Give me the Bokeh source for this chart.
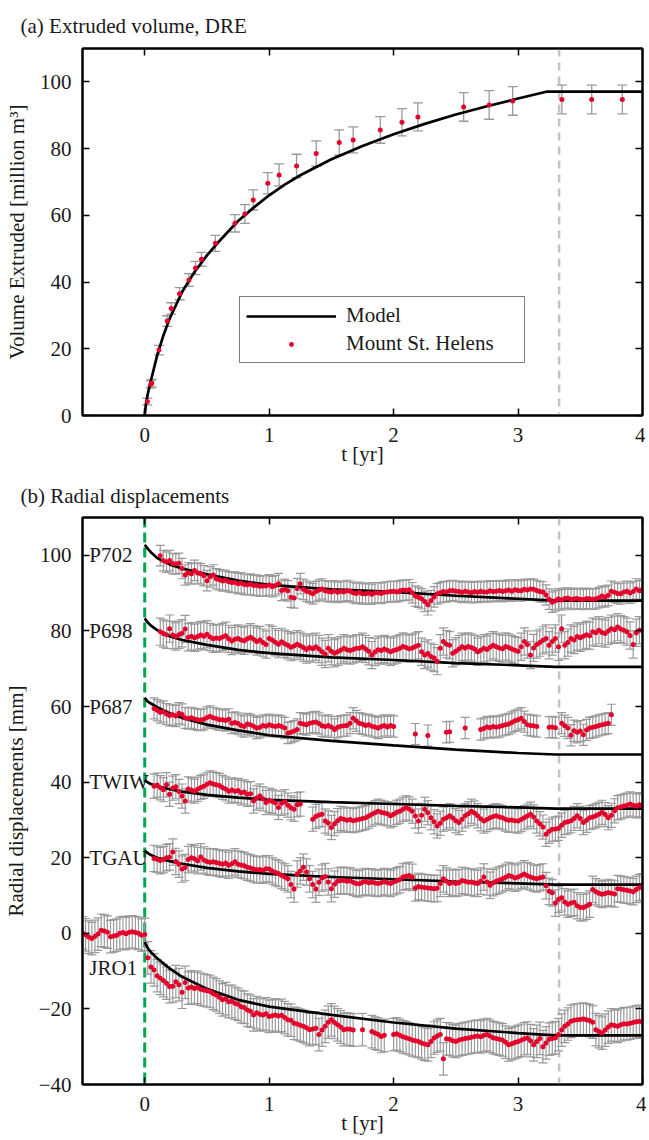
import numpy as np
from bokeh.plotting import figure
from bokeh.layouts import column
from bokeh.models import (Range1d, FixedTicker, LinearAxis, CustomJSTickFormatter,
                          ColumnDataSource, Whisker, TeeHead, Span, Legend, LegendItem)
from bokeh.core.properties import value
from bokeh.embed import file_html
from bokeh.resources import INLINE

FONT = "Liberation Serif"
FS = "21px"
INK = "#1a1a1a"
RED = "#e4002b"
BAR = "#9a9a9a"

# ---------------- (a) Extruded volume ----------------
vol_t = [0.021, 0.048, 0.056, 0.115, 0.181, 0.213, 0.28, 0.355, 0.408, 0.456, 0.568,
         0.725, 0.805, 0.872, 0.989, 1.08, 1.22, 1.378, 1.563, 1.675, 1.893, 2.067,
         2.195, 2.563, 2.768, 2.957, 3.352, 3.592, 3.838]
vol_v = [4.2, 9.3, 9.7, 19.6, 28.3, 32.1, 36.5, 40.6, 44.2, 46.8, 51.6,
         57.6, 60.4, 64.6, 69.6, 72.1, 74.8, 78.5, 81.8, 82.6, 85.6, 87.9,
         89.5, 92.5, 93.1, 94.3, 94.7, 94.7, 94.7]
vol_err = [1.0, 1.1, 1.1, 1.4, 1.6, 1.7, 1.8, 1.9, 2.0, 2.1, 2.4,
           2.6, 2.8, 3.0, 3.2, 3.3, 3.5, 3.8, 3.8, 3.9, 4.0, 4.1,
           4.2, 4.3, 4.3, 4.3, 4.3, 4.3, 4.3]
model_vol_t = [0, 0.01, 0.025, 0.05, 0.1, 0.15, 0.2, 0.3, 0.4, 0.5, 0.6, 0.75, 0.875, 1.0,
               1.125, 1.25, 1.5, 1.75, 2.0, 2.25, 2.5, 2.75, 3.0, 3.235, 4.0]
model_vol_v = [0, 3.5, 6.5, 10.5, 18.0, 24.0, 29.0, 37.0, 43.0, 48.0, 52.3, 58.3, 62.3, 66.0,
               69.2, 72.0, 76.8, 80.8, 84.3, 87.4, 90.2, 92.7, 95.0, 97.1, 97.1]

eruption_end = 3.33
eruption_start = 0.0

# ---------------- (b) Radial displacements ----------------
dt = 0.025
stations = ["P702", "P698", "P687", "TWIW", "TGAU", "JRO1"]
label_y = [100, 80, 60, 40, 20, -9.1]
start_t = [0.125, 0.125, 0.075, 0.075, 0.075, -0.5]
errors = [2.7, 3.6, 2.8, 3.2, 3.5, 4.3]
N = None

p702 = [99.9, 98.6, 98.2, 98.6, 97.8, 97.7, 97.9, 96.5, 94.8, 95.4,
        95.1, 96.0, 95.3, 95.1, 94.6, 93.3, 94.3, 94.8, 93.8, 93.5,
        93.2, 93.4, 93.0, 92.8, 92.9, 92.5, 92.7, 92.3, 92.2, 92.4,
        92.0, 92.1, 91.8, 91.9, 91.9, 92.2, 91.7, 92.0, 92.5, 90.7,
        91.0, 90.6, 88.9, 88.7, 91.2, 92.5, 91.0, 90.5, 90.2, 89.8,
        90.4, 90.8, 91.1, 90.6, 90.4, 90.3, 90.6, 90.2, 90.5, 90.3,
        90.7, 90.5, 90.1, 89.9, 90.2, 89.8, 89.8, 90.0, 89.7, 90.1,
        90.1, 89.9, 90.2, 90.3, 90.4, 90.5, 90.3, 90.6, 90.8, 90.7,
        90.9, 90.1, 89.2, 88.9, 88.5, 87.8, 86.9, 88.0, 89.0, 89.8,
        90.1, 90.4, 90.3, 90.6, 90.7, 90.5, 90.4, 90.2, 90.5, 90.3,
        90.1, 90.4, 90.2, 90.5, 90.3, 90.3, 90.6, 90.4, 90.5, 90.7,
        90.4, 90.6, 90.8, 90.5, 90.9, 90.7, 90.6, 91.0, 90.8, 91.1,
        91.0, 90.7, 90.4, 90.3, 89.5, 88.4, 87.6, 88.0, 88.5, 88.2,
        88.6, 88.7, 88.3, 88.5, 88.6, 88.4, 88.3, 88.6, 88.5, 88.4,
        88.5, 88.8, 89.2, 89.0, 89.4, 90.5, 90.2, 89.9, 89.8, 90.3,
        90.5, 90.0, 90.4, 91.1, 90.6, 91.0]

p698 = [79.8, 79.3, 79.0, 80.6, 78.9, 78.5, 79.0, 79.4, 80.5, 78.3,
        78.6, 78.2, 78.5, 78.9, 78.6, 79.1, 78.4, 77.9, 78.1, 78.0,
        78.4, 78.7, 77.9, 77.3, 77.8, 78.0, 77.6, 77.4, 77.9, 78.3,
        77.8, 77.2, 77.6, 76.9, 76.4, 78.0, 77.6, 77.0, 76.5, 77.1,
        76.6, 76.2, 75.7, 76.0, 76.5, 76.1, 75.6, 75.1, 75.6, 75.3,
        75.8, 75.2, 74.5, 73.9, 75.4, 74.6, 74.1, 74.5, 74.9, 75.4,
        75.0, 74.8, 75.1, 75.4, 75.4, 75.8, 75.2, 74.6, 73.6, 74.4,
        75.0, 74.8, 75.2, 74.9, 74.5, 74.8, 75.1, 75.4, 75.9, 75.6,
        75.3, 75.5, 75.9, 76.2, 74.5, 73.6, 74.0, 73.2, 72.8, 72.0,
        75.4, 77.2, 76.5, 76.2, 74.1, 74.6, 75.2, 75.8, 75.5, 75.9,
        75.6, 75.2, 74.5, 74.9, 75.4, 75.1, 75.7, 76.2, 75.8, 75.5,
        75.3, 75.9, 75.6, 75.2, 74.9, 74.6, 75.8, 77.2, 76.4, 73.6,
        75.5, 76.4, 76.9, 77.5, 78.0, 76.2, 77.2, 78.0, 75.8, 80.6,
        76.2, 76.9, 78.0, 77.6, 78.5, 78.2, 78.6, 79.0, 78.7, 79.8,
        79.5, 80.2, 79.6, 79.3, 80.0, 80.6, 80.3, 81.0, 80.5, 80.2,
        79.8, 78.8, 76.4, 79.5, 80.2, 80.2]

p687 = [59.5, 59.0, 58.4, 58.7, 58.0, 57.6, 57.8, 57.5, 58.2, 57.9,
        57.0, 56.8, 57.0, 56.7, 56.5, 56.4, 56.6, 57.1, 57.4, 57.0,
        56.8, 56.5, 56.5, 56.3, 56.6, 55.6, 55.8, 55.5, 55.0, 54.7,
        55.4, 55.2, 54.8, 54.3, 54.5, 55.0, 54.8, 55.2, 54.9, 54.7,
        55.0, 54.7, 54.3, 53.0, 53.2, 53.5, 53.9, 55.6, 55.4, 55.2,
        55.6, 55.8, 55.9, 55.5, 54.9, 54.7, 55.0, 54.6, 53.9, 54.5,
        54.8, 54.9, 55.0, 55.6, 56.9, 56.2, 55.6, 55.4, 55.0, 55.2,
        54.8, 54.6, 54.3, 54.7, 55.0, 54.6, 55.0, 54.7, N, N,
        N, N, N, N, 52.7, N, N, N, 52.3, N,
        N, N, N, N, 53.2, 53.3, N, N, N, N,
        54.3, N, N, N, N, 53.9, 54.2, 54.6, 54.4, 54.7,
        54.5, 54.7, 55.0, 55.2, 55.4, 55.8, 56.2, 56.5, 56.9, 56.0,
        55.2, 55.0, 54.9, 54.7, N, N, N, 54.5, 54.6, 54.4,
        N, 55.6, 54.9, 54.3, 52.4, 53.6, 53.2, 53.5, 52.5, 53.8,
        54.3, 54.5, 54.7, 55.0, 55.2, 55.4, 55.6, 57.8]

twiw = [38.9, 39.2, 38.5, 38.0, 39.3, 36.8, 38.4, 38.8, 37.5, 36.3,
        35.0, 38.2, 37.9, 37.6, 38.1, 38.6, 38.9, 39.4, 39.8, 39.5,
        39.3, 39.1, 38.6, 38.2, 37.6, 37.9, 37.6, 37.8, 37.2, 37.4,
        36.8, 36.9, 35.0, 35.8, 36.3, 35.6, 34.6, 35.2, 34.9, 34.5,
        33.3, 34.4, 34.8, 33.9, 33.2, 32.8, 34.0, 34.2, N, N,
        N, 30.2, 30.9, 31.3, 31.5, 29.7, 29.2, 28.0, 29.0, 29.8,
        30.4, 30.2, 29.9, 30.1, 29.8, 30.0, 30.2, 30.4, 30.6, 31.0,
        31.5, 31.9, 32.3, 32.0, 31.8, 31.6, 31.1, 31.5, 32.0, 32.3,
        32.8, 33.2, 32.9, 32.3, 31.0, 29.7, 31.2, 32.8, 31.9, 30.6,
        29.5, 28.4, 29.1, 30.2, 30.6, 31.1, 30.5, 29.8, 29.3, 30.2,
        31.1, 31.6, 32.3, 31.8, 31.1, 30.3, 29.7, 30.1, 30.6, 30.9,
        31.1, 30.8, 30.6, 30.2, 29.9, 30.0, 29.8, 29.7, 30.1, 30.6,
        31.0, 31.5, 30.8, 29.7, 29.0, 28.1, 26.2, 27.0, 27.5, 27.6,
        27.8, 28.6, 29.3, 29.5, 29.8, 30.4, 31.1, 30.4, 29.3, 29.9,
        30.6, 30.8, 31.1, 31.5, 32.0, 31.4, 30.6, 31.2, 32.4, 33.2,
        33.4, 33.7, 33.9, 34.2, 33.9, 33.7, 34.0, 33.7]

tgau = [19.8, 19.6, 19.2, 19.5, 20.0, 20.2, 21.5, 19.0, 18.3, 17.0,
        17.4, 19.5, 20.0, 19.7, 19.2, 20.2, 19.4, 19.0, 18.8, 18.9,
        18.7, 18.5, 18.3, 18.6, 18.0, 18.4, 18.9, 18.3, 18.1, 17.9,
        17.5, 17.3, 17.0, 16.8, 16.9, 16.7, 17.1, 17.0, 16.5, 16.1,
        15.8, 15.3, 14.9, 14.4, 12.9, 11.7, 15.7, 16.5, 17.5, 16.2,
        14.4, 12.9, 11.7, 13.5, 14.6, 15.0, 13.6, 11.8, 13.0, 13.8,
        14.0, 14.0, 13.8, 13.9, 13.5, 13.2, 13.1, 13.5, 13.7, 13.4,
        13.6, 13.3, 13.2, 13.4, 13.7, 13.4, 13.2, 13.6, 13.9, 14.2,
        14.9, 15.1, 15.3, 14.8, 12.0, 12.4, 12.2, 12.1, 12.0, 11.9,
        11.8, 11.9, 13.2, 14.4, 13.8, 13.2, 13.5, 13.2, 13.4, 14.0,
        13.8, 13.5, 13.6, 13.3, 13.2, 13.8, 14.9, 13.6, 12.7, 13.4,
        13.8, 14.1, 14.4, 14.8, 15.3, 15.0, 14.6, 14.9, 15.3, 15.7,
        15.2, 14.9, 14.6, 14.4, 14.7, 14.9, 12.6, 11.1, 10.7, 8.0,
        9.0, 9.4, 8.3, 7.7, 8.0, 8.2, 7.3, 6.8, 6.8, 7.2,
        7.7, 11.6, 11.0, 10.6, 10.3, 10.5, 10.8, 10.6, 10.4, 11.8,
        11.7, 11.5, 11.4, 11.2, 11.0, 11.6, 12.1, 12.3]

jro1 = [0.1, -0.4, -1.0, -1.4, -0.8, -0.2, 0.8, 0.6, 0.3, -0.9,
        -0.7, -0.5, 0.0, 0.2, -0.1, 0.3, 0.4, 0.2, 0.0, -0.5,
        -0.3,
        -6.5, -8.9, -9.7, -11.2, -11.9, -12.5, -13.2, -14.1, -14.0, -12.8,
        -13.6, -15.6, -13.0, -14.5, -14.2, -14.6, -14.3, -14.8, -15.0, -15.2,
        -15.4, -15.9, -16.3, -16.9, -17.6, -17.3, -18.1, -18.0, -18.5, -18.8,
        -19.4, -19.6, -20.3, -20.6, -21.6, -21.0, -21.4, -21.6, -21.3, -22.0,
        -21.8, -21.6, -21.9, -21.7, -22.3, -22.9, -23.0, -23.8, -24.0, -24.3,
        -24.6, -25.0, -25.5, -25.3, -25.1, -26.8, -25.6, -24.6, -23.5, -22.9,
        -23.6, -24.2, -24.8, -25.5, -25.3, -25.4, -25.6, N, N, -25.5,
        N, N, -26.0, -26.4, -26.7, -27.3, -27.0, N, N, -26.8,
        -26.6, -27.0, -27.4, -27.6, -27.9, -28.2, -28.4, -28.6, -29.0, -29.3,
        -29.5, -28.6, -27.7, -27.2, -26.8, -33.2, -27.9, -28.0, -28.4, -28.6,
        -28.2, -28.0, -27.8, -27.7, -27.5, -27.3, -27.2, -27.4, -27.0, -26.8,
        -27.2, -27.6, -27.8, -28.0, -28.2, -28.8, -29.5, -29.2, -28.9, -28.6,
        -28.3, -27.9, -27.7, -28.4, -29.5, -28.6, -27.8, -30.0, -29.0, -28.0,
        -27.8, -27.6, -26.8, -25.6, -24.6, -24.0, -23.3, -23.0, -22.9, -22.8,
        -22.7, -22.9, -23.1, -23.5, -25.5, -26.0, -26.4, -25.6, -24.8, -24.2,
        -24.4, -24.6, -24.2, -23.9, -24.0, -23.8, -23.6, -23.4, -23.3, -23.5]

series = [p702, p698, p687, twiw, tgau, jro1]

model_t = [0, 0.025, 0.05, 0.1, 0.2, 0.3, 0.5, 0.75, 1.0, 1.5, 2.0, 2.5, 3.0, 3.3, 4.0]
model_vals = [
    [102.8, 101.7, 100.8, 99.3, 97.6, 96.5, 95.0, 93.3, 92.2, 91.0, 90.3, 89.3, 88.5, 88.0, 88.0],
    [83.3, 82.2, 81.4, 80.2, 78.6, 77.6, 76.3, 75.0, 74.1, 73.0, 72.3, 71.5, 70.9, 70.5, 70.5],
    [62.3, 61.3, 60.8, 59.8, 58.2, 57.0, 55.2, 53.7, 52.4, 50.9, 49.7, 48.6, 47.7, 47.3, 47.3],
    [40.5, 39.9, 39.5, 38.9, 38.1, 37.5, 36.6, 35.9, 35.3, 34.7, 34.2, 33.7, 33.3, 33.0, 33.0],
    [21.9, 21.2, 20.7, 20.0, 19.1, 18.4, 17.3, 16.4, 15.7, 14.9, 14.3, 13.7, 13.2, 12.9, 12.9],
    [-2.3, -4.0, -5.0, -6.6, -9.3, -11.5, -14.7, -17.6, -19.4, -21.6, -23.6, -25.2, -26.4, -27.0, -27.0],
]

x_ticks = [0, 1, 2, 3, 4]
y_ticks_a = [0, 20, 40, 60, 80, 100]
y_ticks_b = [-40, -20, 0, 20, 40, 60, 80, 100]

BLANK = "return '';"
MINUS = "return tick < 0 ? '\u2212' + (-tick) : '' + tick;"


def setup_axis(ax, ticks, labels=True, minus=False):
    ax.ticker = FixedTicker(ticks=ticks)
    ax.major_tick_in = 7
    ax.major_tick_out = 0
    ax.minor_tick_line_color = None
    ax.axis_line_color = "black"
    ax.axis_line_width = 2
    ax.major_tick_line_color = "black"
    ax.major_tick_line_width = 1.5
    ax.major_label_text_font = FONT
    ax.major_label_text_font_size = FS
    ax.major_label_text_color = INK
    ax.axis_label_text_font = FONT
    ax.axis_label_text_font_size = FS
    ax.axis_label_text_font_style = "normal"
    ax.axis_label_text_color = INK
    if not labels:
        ax.formatter = CustomJSTickFormatter(code=BLANK)
        ax.major_label_standoff = 0
    elif minus:
        ax.formatter = CustomJSTickFormatter(code=MINUS)


def make_fig(yr, fh, top, bottom, ylabel, yticks, minus, title, title_standoff):
    p = figure(frame_width=560, frame_height=fh,
               x_range=Range1d(-0.5, 4), y_range=Range1d(*yr),
               output_backend="svg", toolbar_location=None,
               min_border_left=81, min_border_right=4,
               min_border_top=top, min_border_bottom=bottom,
               background_fill_color="white", border_fill_color="white",
               title=title)
    p.title.align = "left"
    p.title.offset = -62
    p.title.standoff = title_standoff
    p.title.text_font = FONT
    p.title.text_font_size = FS
    p.title.text_font_style = "normal"
    p.title.text_color = INK
    p.xgrid.visible = False
    p.ygrid.visible = False
    p.outline_line_color = "black"
    p.outline_line_width = 2
    xa = p.xaxis[0]
    ya = p.yaxis[0]
    setup_axis(xa, x_ticks)
    setup_axis(ya, yticks, minus=minus)
    xa.axis_label = "t [yr]"
    xa.major_label_standoff = 12
    xa.axis_label_standoff = -3
    ya.axis_label = ylabel
    ya.major_label_standoff = 11
    ya.axis_label_standoff = 8
    xt = LinearAxis()
    yr_ax = LinearAxis()
    setup_axis(xt, x_ticks, labels=False)
    setup_axis(yr_ax, yticks, labels=False)
    p.add_layout(xt, "above")
    p.add_layout(yr_ax, "right")
    p.add_layout(Span(location=eruption_end, dimension="height", line_color="#c4c4c4",
                      line_width=2.5, line_dash="8 6", level="underlay"))
    return p


# ---------- figure (a) ----------
p1 = make_fig((0, 110), 367, 48, 54, "Volume Extruded [million m\u00b3]", y_ticks_a, False,
              "(a) Extruded volume, DRE", 21)
va = np.array(vol_v)
ea = np.array(vol_err)
src_a = ColumnDataSource(dict(t=vol_t, v=vol_v, lo=list(va - ea), hi=list(va + ea)))
p1.add_layout(Whisker(base="t", lower="lo", upper="hi", source=src_a, line_color=BAR,
                      line_width=1.3, level="underlay",
                      upper_head=TeeHead(size=10, line_color=BAR, line_width=1.3),
                      lower_head=TeeHead(size=10, line_color=BAR, line_width=1.3)))
r_model = p1.line(model_vol_t, model_vol_v, line_color="black", line_width=2.7)
r_dots = p1.scatter("t", "v", source=src_a, size=5, fill_color=RED, line_color=None)
legend = Legend(items=[LegendItem(label="Model", renderers=[r_model]),
                       LegendItem(label="Mount St. Helens", renderers=[r_dots])],
                location=(157, 52), margin=0, padding=6, spacing=3,
                glyph_width=90, glyph_height=12, label_height=22, label_width=172,
                label_standoff=10, label_text_font=FONT, label_text_font_size=FS,
                label_text_color=INK, border_line_color="black", border_line_width=1.5,
                background_fill_color="white", background_fill_alpha=1.0)
p1.add_layout(legend)

# ---------- figure (b) ----------
p2 = make_fig((-40, 110), 567, 48, 10, "Radial displacements [mm]", y_ticks_b, True,
              "(b) Radial displacements", 20)
p2.add_layout(Span(location=eruption_start, dimension="height", line_color="#00a650",
                   line_width=3, line_dash="10 5", level="underlay"))
for name, vals, t0, err, mv in zip(stations, series, start_t, errors, model_vals):
    t = t0 + dt * np.arange(len(vals))
    v = np.array([np.nan if x is None else x for x in vals], dtype=float)
    ok = ~np.isnan(v)
    src = ColumnDataSource(dict(t=t[ok], v=v[ok], lo=v[ok] - err, hi=v[ok] + err))
    p2.add_layout(Whisker(base="t", lower="lo", upper="hi", source=src, line_color=BAR,
                          line_width=1.2, level="underlay",
                          upper_head=TeeHead(size=9, line_color=BAR, line_width=1.2),
                          lower_head=TeeHead(size=9, line_color=BAR, line_width=1.2)))
    p2.line(model_t, mv, line_color="black", line_width=2.7)
    p2.scatter("t", "v", source=src, size=5, fill_color=RED, line_color=None)

lab_src = ColumnDataSource(dict(x=[-0.445] * len(stations), y=label_y, text=stations))
p2.text(x="x", y="y", text="text", source=lab_src, text_font=value(FONT),
        text_font_size=FS, text_color=INK, text_baseline="middle", text_align="left")

layout = column(p1, p2, spacing=0)
open("out.html", "w").write(file_html(layout, INLINE))
